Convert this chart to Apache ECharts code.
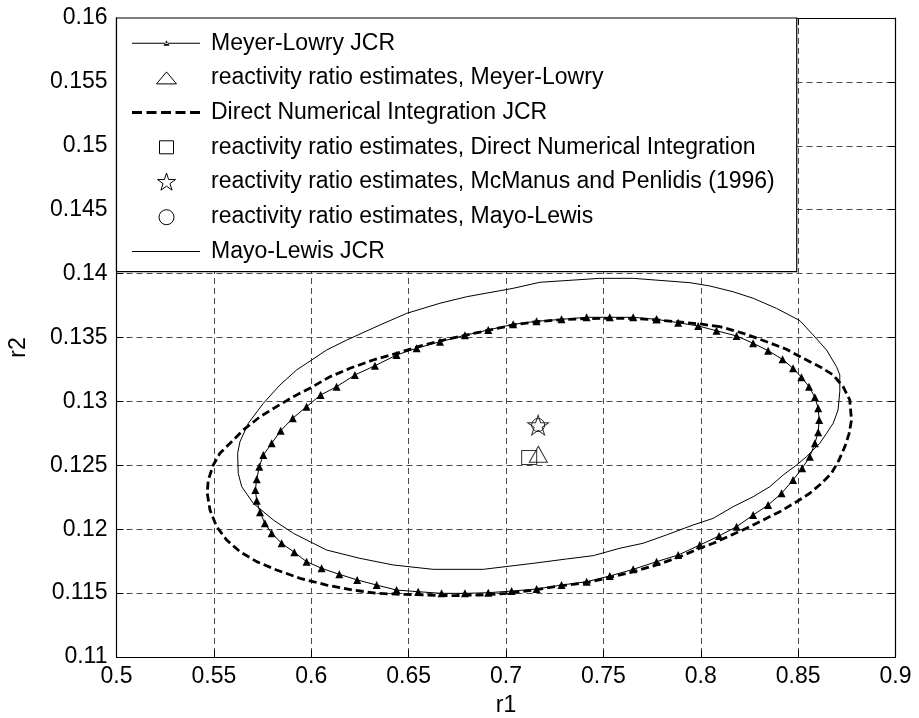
<!DOCTYPE html>
<html>
<head>
<meta charset="utf-8">
<script src="https://cdn.jsdelivr.net/npm/echarts@6/dist/echarts.min.js"></script>
<style>html,body{margin:0;padding:0;background:#fff}#c{width:919px;height:718px}</style>
</head>
<body>
<div id="c"></div>
<script>
// ---- tick values ----
const r1Ticks = [0.5, 0.55, 0.6, 0.65, 0.7, 0.75, 0.8, 0.85, 0.9];
const r2Ticks = [0.11, 0.115, 0.12, 0.125, 0.13, 0.135, 0.14, 0.145, 0.15, 0.155, 0.16];

// ---- Meyer-Lowry JCR ----
const meyerR1 = [0.7773,0.7653,0.7533,0.7414,0.7285,0.7157,0.7037,0.6909,0.6789,0.6661,0.6541,0.6438,0.6327,0.6224,0.6130,0.6048,0.5976,0.5905,0.5843,0.5797,0.5754,0.5733,0.5720,0.5713,0.5720,0.5737,0.5762,0.5797,0.5848,0.5913,0.5976,0.6053,0.6144,0.6236,0.6336,0.6438,0.6549,0.6669,0.6789,0.6909,0.7029,0.7157,0.7285,0.7414,0.7533,0.7653,0.7773,0.7884,0.7995,0.8094,0.8184,0.8269,0.8346,0.8415,0.8474,0.8521,0.8560,0.8586,0.8603,0.8608,0.8603,0.8586,0.8556,0.8517,0.8474,0.8420,0.8346,0.8269,0.8184,0.8081,0.7987,0.7884,0.7773];
const meyerR2 = [0.13642,0.13658,0.13658,0.13658,0.13642,0.13627,0.13603,0.13559,0.13517,0.13467,0.13416,0.13363,0.13279,0.13207,0.13115,0.13050,0.12959,0.12868,0.12771,0.12672,0.12581,0.12489,0.12390,0.12307,0.12223,0.12132,0.12046,0.11968,0.11890,0.11819,0.11746,0.11694,0.11647,0.11603,0.11563,0.11524,0.11511,0.11498,0.11498,0.11503,0.11516,0.11532,0.11563,0.11589,0.11634,0.11686,0.11746,0.11798,0.11876,0.11947,0.12020,0.12111,0.12189,0.12281,0.12385,0.12477,0.12567,0.12672,0.12758,0.12854,0.12946,0.13032,0.13115,0.13189,0.13259,0.13329,0.13397,0.13455,0.13512,0.13553,0.13590,0.13616,0.13642];

// ---- Direct Numerical Integration JCR ----
const dniR1 = [0.8098,0.7995,0.7867,0.7739,0.7619,0.7482,0.7311,0.7157,0.7037,0.6917,0.6798,0.6678,0.6558,0.6438,0.6318,0.6199,0.6096,0.5993,0.5908,0.5822,0.5737,0.5651,0.5591,0.5531,0.5497,0.5471,0.5466,0.5480,0.5514,0.5566,0.5634,0.5720,0.5822,0.5942,0.6079,0.6216,0.6336,0.6455,0.6592,0.6729,0.6866,0.7003,0.7140,0.7277,0.7414,0.7533,0.7653,0.7773,0.7893,0.7995,0.8064,0.8158,0.8235,0.8320,0.8406,0.8492,0.8560,0.8620,0.8671,0.8710,0.8740,0.8762,0.8774,0.8765,0.8731,0.8680,0.8611,0.8526,0.8440,0.8338,0.8218,0.8098];
const dniR2 = [0.13585,0.13606,0.13625,0.13642,0.13650,0.13650,0.13642,0.13624,0.13598,0.13559,0.13520,0.13480,0.13433,0.13376,0.13324,0.13259,0.13193,0.13103,0.13037,0.12959,0.12880,0.12776,0.12685,0.12594,0.12502,0.12385,0.12281,0.12150,0.12020,0.11915,0.11824,0.11746,0.11681,0.11616,0.11563,0.11524,0.11498,0.11491,0.11485,0.11480,0.11485,0.11498,0.11524,0.11556,0.11581,0.11624,0.11667,0.11720,0.11785,0.11851,0.11890,0.11955,0.12007,0.12072,0.12137,0.12215,0.12281,0.12359,0.12437,0.12541,0.12646,0.12750,0.12854,0.13011,0.13115,0.13207,0.13272,0.13337,0.13408,0.13467,0.13533,0.13585];

// ---- Mayo-Lewis JCR ----
const mayoR1 = [0.7653,0.7482,0.7174,0.7037,0.6798,0.6661,0.6490,0.6353,0.6182,0.6079,0.5925,0.5839,0.5754,0.5677,0.5634,0.5622,0.5625,0.5643,0.5702,0.5805,0.5908,0.6079,0.6250,0.6421,0.6626,0.6883,0.7140,0.7311,0.7448,0.7585,0.7704,0.7824,0.7961,0.8064,0.8166,0.8269,0.8355,0.8423,0.8492,0.8543,0.8611,0.8646,0.8680,0.8705,0.8714,0.8714,0.8697,0.8646,0.8577,0.8509,0.8389,0.8269,0.8166,0.8047,0.7944,0.7653];
const mayoR2 = [0.13963,0.13963,0.13932,0.13885,0.13819,0.13768,0.13689,0.13598,0.13480,0.13402,0.13246,0.13128,0.12985,0.12829,0.12685,0.12594,0.12437,0.12333,0.12203,0.12072,0.11968,0.11837,0.11772,0.11720,0.11686,0.11686,0.11733,0.11767,0.11793,0.11851,0.11890,0.11955,0.12033,0.12085,0.12176,0.12254,0.12333,0.12424,0.12502,0.12567,0.12672,0.12750,0.12829,0.12933,0.13076,0.13207,0.13272,0.13402,0.13520,0.13632,0.13728,0.13807,0.13858,0.13903,0.13929,0.13963];

// ---- reactivity ratio estimates [r1, r2] ----
const estMeyerLowry = [0.7166, 0.12586];
const estDirectNum  = [0.7119, 0.12561];
const estMcManus    = [0.7165, 0.12815];
const estMayoLewis  = [0.7165, 0.12815];

const seriesNames = [
  'Meyer-Lowry JCR',
  'reactivity ratio estimates, Meyer-Lowry',
  'Direct Numerical Integration JCR',
  'reactivity ratio estimates, Direct Numerical Integration',
  'reactivity ratio estimates, McManus and Penlidis (1996)',
  'reactivity ratio estimates, Mayo-Lewis',
  'Mayo-Lewis JCR'
];

const zip = (a, b) => a.map((v, i) => [v, b[i]]);
const FONT = '"Liberation Sans", Arial, Helvetica, sans-serif';
const fmt = v => String(+(+v).toFixed(4));

const STAR = 'path://M0,-10 L2.245,-3.09 L9.511,-3.09 L3.633,1.18 L5.878,8.09 L0,3.82 L-5.878,8.09 L-3.633,1.18 L-9.511,-3.09 L-2.245,-3.09 Z';

// legend icons (74 x 20 box; anchors keep the box)
const A = 'M0,0 L0,0 M74,20 L74,20 ';
const icMeyer = 'path://' + A + 'M0,9.5 L68,9.5 L68,10.5 L0,10.5 Z M31.5,12.5 L37.5,12.5 L34.5,7 Z';
const icTri = 'path://' + A + 'M24.5,16 L44.5,16 L34.5,4 Z';
const icDash = 'path://' + A + 'M0,8.5 L10,8.5 L10,11.5 L0,11.5 Z M14.5,8.5 L24.5,8.5 L24.5,11.5 L14.5,11.5 Z M29,8.5 L39,8.5 L39,11.5 L29,11.5 Z M43.5,8.5 L53.5,8.5 L53.5,11.5 L43.5,11.5 Z M58,8.5 L68,8.5 L68,11.5 L58,11.5 Z';
const icSq = 'path://' + A + 'M27.5,3.5 L41.5,3.5 L41.5,16.5 L27.5,16.5 Z';
const icStar = 'path://' + A + 'M34.5,1 L36.634,7.564 L43.535,7.564 L37.952,11.622 L40.084,18.186 L34.5,14.13 L28.916,18.186 L31.048,11.622 L25.465,7.564 L32.366,7.564 Z';
const icCirc = 'path://' + A + 'M27,10.5 A7.5,7.5 0 1 0 42,10.5 A7.5,7.5 0 1 0 27,10.5 Z';
const icLine = 'path://' + A + 'M0,9.5 L68,9.5 L68,10.5 L0,10.5 Z';

const filled = {color: '#000', borderWidth: 0, opacity: 1};
const hollow = {color: '#fff', borderColor: '#000', borderWidth: 1, opacity: 1};

const hollowItem = {color: 'rgba(0,0,0,0)', borderColor: '#000', borderWidth: 1};

const axisCommon = {
  type: 'value',
  axisLine: {show: true, onZero: false, lineStyle: {color: '#000', width: 1.2}},
  axisTick: {show: true, inside: true, length: 7, lineStyle: {color: '#000', width: 1}}
};

const option = {
  animation: false,
  backgroundColor: '#fff',
  textStyle: {fontFamily: FONT},
  grid: {left: 116.5, right: 23.5, top: 18, bottom: 61, containLabel: false, outerBoundsMode: 'none'},
  xAxis: [
    Object.assign({}, axisCommon, {
      min: r1Ticks[0], max: r1Ticks[r1Ticks.length - 1], interval: 0.05, position: 'bottom',
      name: 'r1', nameLocation: 'middle', nameGap: 37,
      nameTextStyle: {fontSize: 23, color: '#000', fontFamily: FONT},
      axisLabel: {fontSize: 23, color: '#000', margin: 8, fontFamily: FONT, formatter: fmt},
      splitLine: {show: true, lineStyle: {color: '#4a4a4a', width: 1, type: [6, 4]}}
    }),
    Object.assign({}, axisCommon, {
      min: r1Ticks[0], max: r1Ticks[r1Ticks.length - 1], interval: 0.05, position: 'top',
      axisLabel: {show: false}, splitLine: {show: false}
    })
  ],
  yAxis: [
    Object.assign({}, axisCommon, {
      min: r2Ticks[0], max: r2Ticks[r2Ticks.length - 1], interval: 0.005, position: 'left',
      name: 'r2', nameLocation: 'middle', nameGap: 86,
      nameTextStyle: {fontSize: 23, color: '#000', fontFamily: FONT, padding: [0, 20, 0, 0]},
      axisLabel: {fontSize: 23, color: '#000', margin: 9, fontFamily: FONT, formatter: fmt},
      splitLine: {show: true, lineStyle: {color: '#4a4a4a', width: 1, type: [6, 4]}}
    }),
    Object.assign({}, axisCommon, {
      min: r2Ticks[0], max: r2Ticks[r2Ticks.length - 1], interval: 0.005, position: 'right',
      axisLabel: {show: false}, splitLine: {show: false}
    })
  ],
  legend: {
    orient: 'vertical', left: 116.5, top: 18,
    padding: [13.2, 22, 8.3, 15],
    itemWidth: 74, itemHeight: 20, itemGap: 10.7,
    backgroundColor: '#fff', borderColor: '#000', borderWidth: 1.2, borderRadius: 0,
    textStyle: {fontSize: 23, color: '#000', fontFamily: FONT, lineHeight: 24},
    selectedMode: false,
    symbolKeepAspect: true,
    data: [
      {name: seriesNames[0], icon: icMeyer, itemStyle: filled},
      {name: seriesNames[1], icon: icTri, itemStyle: hollow},
      {name: seriesNames[2], icon: icDash, itemStyle: filled},
      {name: seriesNames[3], icon: icSq, itemStyle: hollow},
      {name: seriesNames[4], icon: icStar, itemStyle: hollow},
      {name: seriesNames[5], icon: icCirc, itemStyle: hollow},
      {name: seriesNames[6], icon: icLine, itemStyle: filled}
    ]
  },
  series: [
    {name: seriesNames[0], type: 'line', data: zip(meyerR1, meyerR2),
     symbol: 'triangle', symbolSize: 8, showSymbol: true, showAllSymbol: true,
     itemStyle: {color: '#000', borderWidth: 0}, lineStyle: {color: '#000', width: 1},
     emphasis: {disabled: true}, silent: true, z: 3},
    {name: seriesNames[1], type: 'scatter', data: [estMeyerLowry],
     symbol: 'triangle', symbolSize: [18, 16], itemStyle: hollowItem,
     emphasis: {disabled: true}, silent: true, z: 4},
    {name: seriesNames[2], type: 'line', data: zip(dniR1, dniR2), symbol: 'none',
     itemStyle: {color: '#000'}, lineStyle: {color: '#000', width: 2.8, type: [8, 4]},
     emphasis: {disabled: true}, silent: true, z: 2},
    {name: seriesNames[3], type: 'scatter', data: [estDirectNum],
     symbol: 'rect', symbolSize: [15, 14], itemStyle: hollowItem,
     emphasis: {disabled: true}, silent: true, z: 4},
    {name: seriesNames[4], type: 'scatter', data: [estMcManus],
     symbol: STAR, symbolSize: [21, 20], itemStyle: hollowItem,
     emphasis: {disabled: true}, silent: true, z: 4},
    {name: seriesNames[5], type: 'scatter', data: [estMayoLewis],
     symbol: 'circle', symbolSize: 13, itemStyle: hollowItem,
     emphasis: {disabled: true}, silent: true, z: 4},
    {name: seriesNames[6], type: 'line', data: zip(mayoR1, mayoR2), symbol: 'none',
     itemStyle: {color: '#000'}, lineStyle: {color: '#000', width: 1},
     emphasis: {disabled: true}, silent: true, z: 2}
  ]
};

const chart = echarts.init(document.getElementById('c'), null, {renderer: 'canvas'});
chart.setOption(option);
</script>
</body>
</html>
